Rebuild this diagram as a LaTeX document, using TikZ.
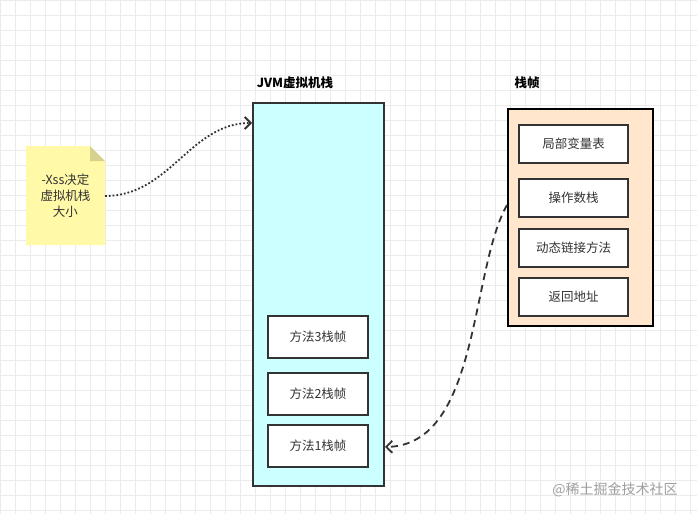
\documentclass[tikz,border=0pt]{standalone}
\usepackage{fontspec}
\setmainfont{Noto Sans CJK SC}
\usetikzlibrary{arrows.meta}
\definecolor{gridc}{HTML}{EBEBEB}
\definecolor{notec}{HTML}{FFF9A8}
\definecolor{cyanc}{HTML}{CCFFFF}
\definecolor{peach}{HTML}{FFE6CC}
\definecolor{linec}{HTML}{333333}
\begin{document}
\begin{tikzpicture}[x=1pt,y=-1pt,
  box/.style={draw=linec,line width=1.3pt,fill=white,minimum width=100pt,minimum height=42pt,font=\fontsize{12.5}{14}\selectfont,text=linec},
  ibox/.style={draw=linec,line width=1.3pt,fill=white,minimum width=109pt,minimum height=38pt,font=\fontsize{12.5}{14}\selectfont,text=linec},
  lbl/.style={font=\fontsize{12.5}{14}\selectfont\bfseries,text=black},
  arr/.style={line width=1.8pt,draw=linec,-{Straight Barb[length=6pt,width=12pt]}}]
\useasboundingbox (0,0) rectangle (697,514);
\fill[white] (0,0) rectangle (697,514);
\foreach \i in {0,15,...,697} \draw[gridc,line width=0.6pt] (\i,0) -- (\i,514);
\foreach \i in {0,15,...,514} \draw[gridc,line width=0.6pt] (0,\i) -- (697,\i);
% note
\fill[notec] (26,146) -- (90,146) -- (105,161) -- (105,245) -- (26,245) -- cycle;
\fill[notec!60!black!40!notec] (90,146) -- (105,161) -- (90,161) -- cycle;
\node[align=center,font=\fontsize{12.5}{16}\selectfont,text=linec] (note) at (65.5,195.5) {-Xss决定\\虚拟机栈\\大小};
\coordinate (noteR) at (105,196);
% JVM stack
\node[draw=linec,line width=1.8pt,fill=cyanc,minimum width=131pt,minimum height=383pt,anchor=north west,inner sep=0pt] (jvm) at (252,102) {};
\node[lbl] (jvml) at (295,83) {JVM虚拟机栈};
\node[box] (m3) at (318,337) {方法3栈帧};
\node[box] (m2) at (318,394) {方法2栈帧};
\node[box] (m1) at (318,446) {方法1栈帧};
% frame
\node[draw=black,line width=2pt,fill=peach,minimum width=145pt,minimum height=217pt,anchor=north west,inner sep=0pt] (fr) at (507,108) {};
\node[lbl] (frl) at (527,83) {栈帧};
\node[ibox] (f1) at (573.5,144) {局部变量表};
\node[ibox] (f2) at (573.5,198) {操作数栈};
\node[ibox] (f3) at (573.5,248) {动态链接方法};
\node[ibox] (f4) at (573.5,297) {返回地址};
% arrows
\coordinate (jin) at (252,123);
\draw[arr,dotted] (noteR) .. controls (170,196) and (190,123) .. (jin);
\coordinate (fout) at (507,205);
\coordinate (jin2) at (385,447);
\draw[arr,dashed,dash pattern=on 7pt off 5pt] (fout) .. controls (470,270) and (480,445) .. (jin2);
\node[font=\fontsize{14}{16}\selectfont,text=gray!75] (wm) at (615,490) {@稀土掘金技术社区};
\end{tikzpicture}
\end{document}
